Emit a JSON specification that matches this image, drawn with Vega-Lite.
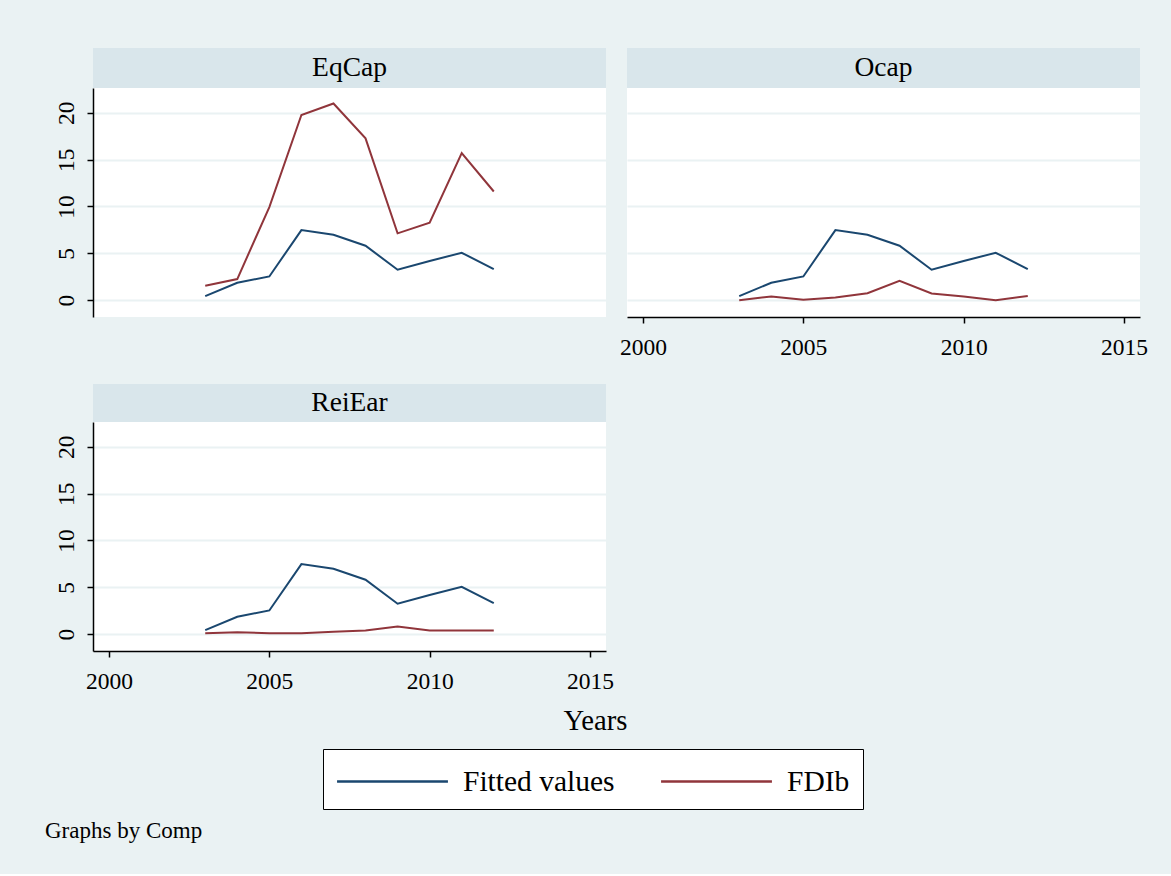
{
  "$schema": "https://vega.github.io/schema/vega-lite/v6.json",
  "background": "#EAF2F3",
  "padding": {"left": 44, "top": 48, "right": 34, "bottom": 31},
  "config": {
    "font": "Liberation Serif",
    "view": {"stroke": null},
    "axis": {
      "labelFont": "Liberation Serif",
      "labelFontSize": 23.5,
      "labelColor": "black",
      "titleFont": "Liberation Serif",
      "titleColor": "black",
      "titleFontWeight": "normal",
      "domainColor": "black",
      "domainWidth": 1.5,
      "tickColor": "black",
      "tickWidth": 1.5,
      "tickSize": 6,
      "gridColor": "#EAF2F3",
      "gridWidth": 2,
      "labelOverlap": false,
      "labelFlush": false
    },
    "legend": {
      "orient": "none",
      "legendX": 230,
      "legendY": 701,
      "direction": "horizontal",
      "symbolType": "M-3.08,0H3.08",
      "symbolSize": 1296,
      "symbolOffset": 37,
      "symbolStrokeWidth": 2.5,
      "labelFont": "Liberation Serif",
      "labelFontSize": 29.5,
      "labelColor": "black",
      "labelOffset": 51,
      "columnPadding": 41,
      "padding": 13,
      "strokeColor": "black",
      "fillColor": "white",
      "labelLimit": 0
    },
    "title": {
      "font": "Liberation Serif",
      "fontSize": 23,
      "fontWeight": "normal",
      "color": "black"
    }
  },
  "title": {"text": "Graphs by Comp", "orient": "bottom", "anchor": "start", "offset": 10, "dx": -9},
  "datasets": {
    "panels": [
      {"Comp": "EqCap"},
      {"Comp": "Ocap"},
      {"Comp": "ReiEar"}
    ],
    "series": [
      {"Comp": "EqCap", "Series": "Fitted values", "Year": 2003, "Value": 0.43},
      {"Comp": "EqCap", "Series": "Fitted values", "Year": 2004, "Value": 1.86},
      {"Comp": "EqCap", "Series": "Fitted values", "Year": 2005, "Value": 2.53},
      {"Comp": "EqCap", "Series": "Fitted values", "Year": 2006, "Value": 7.48},
      {"Comp": "EqCap", "Series": "Fitted values", "Year": 2007, "Value": 6.98},
      {"Comp": "EqCap", "Series": "Fitted values", "Year": 2008, "Value": 5.81},
      {"Comp": "EqCap", "Series": "Fitted values", "Year": 2009, "Value": 3.25},
      {"Comp": "EqCap", "Series": "Fitted values", "Year": 2010, "Value": 4.17},
      {"Comp": "EqCap", "Series": "Fitted values", "Year": 2011, "Value": 5.06},
      {"Comp": "EqCap", "Series": "Fitted values", "Year": 2012, "Value": 3.31},
      {"Comp": "EqCap", "Series": "FDIb", "Year": 2003, "Value": 1.54},
      {"Comp": "EqCap", "Series": "FDIb", "Year": 2004, "Value": 2.25},
      {"Comp": "EqCap", "Series": "FDIb", "Year": 2005, "Value": 9.94},
      {"Comp": "EqCap", "Series": "FDIb", "Year": 2006, "Value": 19.77},
      {"Comp": "EqCap", "Series": "FDIb", "Year": 2007, "Value": 21.0},
      {"Comp": "EqCap", "Series": "FDIb", "Year": 2008, "Value": 17.27},
      {"Comp": "EqCap", "Series": "FDIb", "Year": 2009, "Value": 7.13},
      {"Comp": "EqCap", "Series": "FDIb", "Year": 2010, "Value": 8.27},
      {"Comp": "EqCap", "Series": "FDIb", "Year": 2011, "Value": 15.7},
      {"Comp": "EqCap", "Series": "FDIb", "Year": 2012, "Value": 11.6},
      {"Comp": "Ocap", "Series": "Fitted values", "Year": 2003, "Value": 0.43},
      {"Comp": "Ocap", "Series": "Fitted values", "Year": 2004, "Value": 1.86},
      {"Comp": "Ocap", "Series": "Fitted values", "Year": 2005, "Value": 2.53},
      {"Comp": "Ocap", "Series": "Fitted values", "Year": 2006, "Value": 7.48},
      {"Comp": "Ocap", "Series": "Fitted values", "Year": 2007, "Value": 6.98},
      {"Comp": "Ocap", "Series": "Fitted values", "Year": 2008, "Value": 5.81},
      {"Comp": "Ocap", "Series": "Fitted values", "Year": 2009, "Value": 3.25},
      {"Comp": "Ocap", "Series": "Fitted values", "Year": 2010, "Value": 4.17},
      {"Comp": "Ocap", "Series": "Fitted values", "Year": 2011, "Value": 5.06},
      {"Comp": "Ocap", "Series": "Fitted values", "Year": 2012, "Value": 3.31},
      {"Comp": "Ocap", "Series": "FDIb", "Year": 2003, "Value": 0.0},
      {"Comp": "Ocap", "Series": "FDIb", "Year": 2004, "Value": 0.39},
      {"Comp": "Ocap", "Series": "FDIb", "Year": 2005, "Value": 0.04},
      {"Comp": "Ocap", "Series": "FDIb", "Year": 2006, "Value": 0.28},
      {"Comp": "Ocap", "Series": "FDIb", "Year": 2007, "Value": 0.74},
      {"Comp": "Ocap", "Series": "FDIb", "Year": 2008, "Value": 2.06},
      {"Comp": "Ocap", "Series": "FDIb", "Year": 2009, "Value": 0.71},
      {"Comp": "Ocap", "Series": "FDIb", "Year": 2010, "Value": 0.39},
      {"Comp": "Ocap", "Series": "FDIb", "Year": 2011, "Value": 0.0},
      {"Comp": "Ocap", "Series": "FDIb", "Year": 2012, "Value": 0.43},
      {"Comp": "ReiEar", "Series": "Fitted values", "Year": 2003, "Value": 0.43},
      {"Comp": "ReiEar", "Series": "Fitted values", "Year": 2004, "Value": 1.86},
      {"Comp": "ReiEar", "Series": "Fitted values", "Year": 2005, "Value": 2.53},
      {"Comp": "ReiEar", "Series": "Fitted values", "Year": 2006, "Value": 7.48},
      {"Comp": "ReiEar", "Series": "Fitted values", "Year": 2007, "Value": 6.98},
      {"Comp": "ReiEar", "Series": "Fitted values", "Year": 2008, "Value": 5.81},
      {"Comp": "ReiEar", "Series": "Fitted values", "Year": 2009, "Value": 3.25},
      {"Comp": "ReiEar", "Series": "Fitted values", "Year": 2010, "Value": 4.17},
      {"Comp": "ReiEar", "Series": "Fitted values", "Year": 2011, "Value": 5.06},
      {"Comp": "ReiEar", "Series": "Fitted values", "Year": 2012, "Value": 3.31},
      {"Comp": "ReiEar", "Series": "FDIb", "Year": 2003, "Value": 0.1},
      {"Comp": "ReiEar", "Series": "FDIb", "Year": 2004, "Value": 0.2},
      {"Comp": "ReiEar", "Series": "FDIb", "Year": 2005, "Value": 0.1},
      {"Comp": "ReiEar", "Series": "FDIb", "Year": 2006, "Value": 0.1},
      {"Comp": "ReiEar", "Series": "FDIb", "Year": 2007, "Value": 0.25},
      {"Comp": "ReiEar", "Series": "FDIb", "Year": 2008, "Value": 0.4},
      {"Comp": "ReiEar", "Series": "FDIb", "Year": 2009, "Value": 0.82},
      {"Comp": "ReiEar", "Series": "FDIb", "Year": 2010, "Value": 0.4},
      {"Comp": "ReiEar", "Series": "FDIb", "Year": 2011, "Value": 0.4},
      {"Comp": "ReiEar", "Series": "FDIb", "Year": 2012, "Value": 0.4}
    ]
  },
  "spacing": 25,
  "resolve": {"scale": {"color": "shared"}},
  "vconcat": [
    {
      "spacing": 13,
      "hconcat": [
        {
          "spacing": 0,
          "vconcat": [
            {
              "width": 513, "height": 40,
              "data": {"name": "panels"},
              "transform": [{"filter": "datum.Comp === 'EqCap'"}],
              "mark": {"type": "text", "fontSize": 27.5, "font": "Liberation Serif", "color": "black", "baseline": "middle"},
              "encoding": {"text": {"field": "Comp", "type": "nominal"}},
              "view": {"fill": "#D9E6EB", "stroke": null}
            },
            {
              "width": 513, "height": 229,
              "data": {"name": "series"},
              "transform": [{"filter": "datum.Comp === 'EqCap'"}],
              "mark": {"type": "line", "strokeWidth": 2},
              "encoding": {
                "x": {"field": "Year", "type": "quantitative", "scale": {"domain": [1999.5, 2015.5], "nice": false, "zero": false}, "axis": null},
                "y": {"field": "Value", "type": "quantitative", "scale": {"domain": [-1.8, 22.65], "nice": false, "zero": false},
                  "axis": {"values": [0, 5, 10, 15, 20], "title": null, "grid": true, "labelAngle": 270, "labelAlign": "center", "labelBaseline": "alphabetic", "labelPadding": 14}},
                "color": {"field": "Series", "type": "nominal", "scale": {"domain": ["Fitted values", "FDIb"], "range": ["#1A476F", "#90353B"]}, "legend": {"title": null}}
              },
              "view": {"fill": "white", "stroke": null}
            }
          ]
        },
        {
          "spacing": 0,
          "vconcat": [
            {
              "width": 513, "height": 40,
              "data": {"name": "panels"},
              "transform": [{"filter": "datum.Comp === 'Ocap'"}],
              "mark": {"type": "text", "fontSize": 27.5, "font": "Liberation Serif", "color": "black", "baseline": "middle"},
              "encoding": {"text": {"field": "Comp", "type": "nominal"}},
              "view": {"fill": "#D9E6EB", "stroke": null}
            },
            {
              "width": 513, "height": 229,
              "data": {"name": "series"},
              "transform": [{"filter": "datum.Comp === 'Ocap'"}],
              "mark": {"type": "line", "strokeWidth": 2},
              "encoding": {
                "x": {"field": "Year", "type": "quantitative", "scale": {"domain": [1999.5, 2015.5], "nice": false, "zero": false},
                  "axis": {"values": [2000, 2005, 2010, 2015], "format": "d", "title": null, "grid": false, "labelPadding": 12}},
                "y": {"field": "Value", "type": "quantitative", "scale": {"domain": [-1.8, 22.65], "nice": false, "zero": false},
                  "axis": {"values": [0, 5, 10, 15, 20], "title": null, "grid": true, "labels": false, "ticks": false, "domain": false}},
                "color": {"field": "Series", "type": "nominal", "scale": {"domain": ["Fitted values", "FDIb"], "range": ["#1A476F", "#90353B"]}, "legend": {"title": null}}
              },
              "view": {"fill": "white", "stroke": null}
            }
          ]
        }
      ]
    },
    {
      "spacing": 0,
      "vconcat": [
        {
          "width": 513, "height": 38,
          "data": {"name": "panels"},
          "transform": [{"filter": "datum.Comp === 'ReiEar'"}],
          "mark": {"type": "text", "fontSize": 27.5, "font": "Liberation Serif", "color": "black", "baseline": "middle"},
          "encoding": {"text": {"field": "Comp", "type": "nominal"}},
          "view": {"fill": "#D9E6EB", "stroke": null}
        },
        {
          "width": 513, "height": 229,
          "data": {"name": "series"},
          "transform": [{"filter": "datum.Comp === 'ReiEar'"}],
          "mark": {"type": "line", "strokeWidth": 2},
          "encoding": {
            "x": {"field": "Year", "type": "quantitative", "scale": {"domain": [1999.5, 2015.5], "nice": false, "zero": false},
              "axis": {"values": [2000, 2005, 2010, 2015], "format": "d", "title": "Years", "titleFontSize": 28.7, "titleX": 502, "titleY": 78, "titleAlign": "center", "titleBaseline": "alphabetic", "grid": false, "labelPadding": 12}},
            "y": {"field": "Value", "type": "quantitative", "scale": {"domain": [-1.8, 22.65], "nice": false, "zero": false},
              "axis": {"values": [0, 5, 10, 15, 20], "title": null, "grid": true, "labelAngle": 270, "labelAlign": "center", "labelBaseline": "alphabetic", "labelPadding": 14}},
            "color": {"field": "Series", "type": "nominal", "scale": {"domain": ["Fitted values", "FDIb"], "range": ["#1A476F", "#90353B"]}, "legend": {"title": null}}
          },
          "view": {"fill": "white", "stroke": null}
        }
      ]
    }
  ]
}
